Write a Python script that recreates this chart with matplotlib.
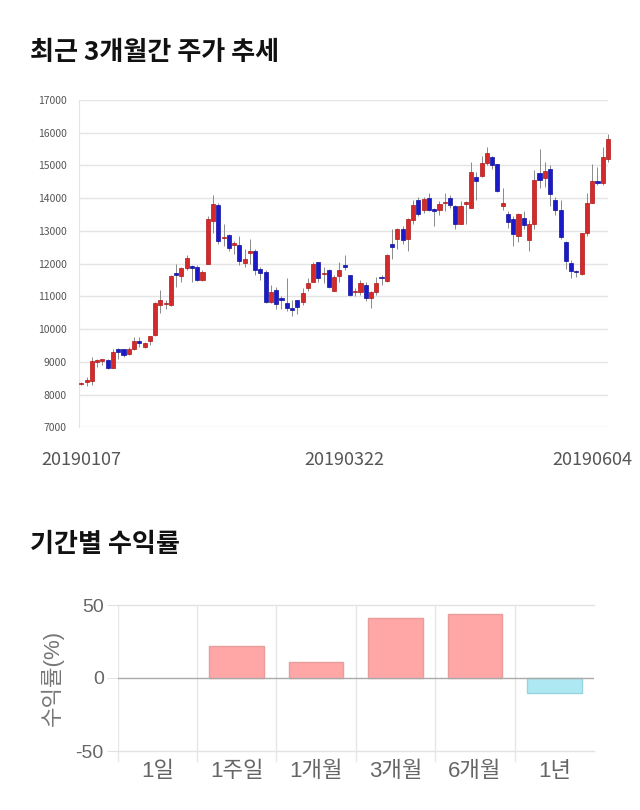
import matplotlib
matplotlib.use("Agg")
import matplotlib.pyplot as plt
import matplotlib.transforms as mtransforms
import numpy as np

plt.rcParams['font.family'] = ['Noto Sans CJK KR', 'DejaVu Sans']

# ---------------- data ----------------
opens = [8320, 8380, 8420, 9000, 9040, 9060, 8810, 9390, 9390, 9250,
         9390, 9650, 9450, 9650, 9830, 10740, 10760, 10740, 11710, 11610,
         11860, 11900, 11900, 11500, 12000, 13290, 13800, 12780, 12880, 12580,
         12580, 12030, 12340, 12400, 11850, 11750, 10830, 11200, 10950, 10790,
         10640, 10890, 10840, 11250, 11430, 12040, 11680, 11800, 11170, 11630,
         11960, 11650, 11130, 11140, 11350, 10940, 11140, 11600, 11480, 12610,
         12760, 13070, 12760, 13320, 13930, 13630, 14010, 13640, 13630, 13840,
         14010, 13760, 13220, 13830, 13710, 14660, 14680, 15080, 15270, 15030,
         13760, 13510, 13370, 12860, 13400, 12710, 13220, 14780, 14620, 14880,
         13930, 13630, 12660, 12010, 11760, 11680, 12930, 13860, 14520, 14450,
         15190]
highs = [8380, 8550, 9150, 9100, 9100, 9100, 9400, 9420, 9400, 9450,
         9750, 9750, 9600, 9800, 10830, 11200, 10900, 11650, 12000, 11900,
         12250, 11950, 11950, 11800, 13450, 14100, 13850, 13200, 12900, 12700,
         12850, 12450, 12750, 12450, 11900, 11800, 11350, 11300, 11000, 11550,
         10900, 10900, 11250, 11550, 12050, 12050, 11900, 11850, 11650, 12050,
         12250, 11650, 11250, 11500, 11450, 11150, 11600, 11650, 12300, 13050,
         13100, 13150, 13400, 13950, 14050, 14050, 14150, 13700, 13900, 14150,
         14100, 13800, 13900, 13900, 15100, 14800, 15300, 15550, 15300, 15050,
         14300, 13620, 13450, 13550, 13620, 13330, 14850, 15500, 15100, 15000,
         14050, 13950, 12700, 12100, 11800, 12950, 14150, 15050, 14950, 15550,
         15950]
lows = [8280, 8250, 8300, 8850, 8900, 8780, 8800, 9100, 9150, 9200,
        9350, 9450, 9430, 9500, 9800, 10500, 10600, 10700, 11300, 11450,
        11800, 11450, 11480, 11480, 12000, 12950, 12600, 12550, 12400, 12300,
        11950, 11900, 12000, 11650, 11500, 10800, 10800, 10620, 10600, 10550,
        10400, 10450, 10750, 11150, 11430, 11450, 11400, 11250, 11150, 11450,
        11800, 11000, 11000, 11050, 10850, 10650, 11050, 11350, 11450, 12150,
        12450, 12600, 12400, 13200, 13450, 13550, 13600, 13150, 13500, 13600,
        13700, 13050, 13200, 13200, 13700, 13950, 14650, 15000, 14900, 14200,
        13650, 13100, 12550, 12650, 13050, 12400, 13050, 14300, 14350, 13750,
        13500, 12750, 11850, 11550, 11600, 11650, 12850, 13850, 14400, 14400,
        15100]
closes = [8350, 8430, 9030, 9060, 9050, 8810, 9300, 9300, 9220, 9390,
          9650, 9570, 9590, 9800, 10800, 10900, 10790, 11610, 11640, 11860,
          12170, 11870, 11500, 11750, 13370, 13830, 12690, 12800, 12480, 12640,
          12080, 12150, 12360, 11800, 11700, 10830, 11130, 10780, 10880, 10640,
          10590, 10690, 11100, 11400, 11990, 11550, 11700, 11300, 11600, 11800,
          11890, 11040, 11150, 11400, 10940, 11140, 11400, 11550, 12260, 12520,
          13070, 12720, 13370, 13780, 13530, 13960, 13630, 13620, 13810, 13880,
          13780, 13220, 13760, 13860, 14810, 14520, 15080, 15390, 15010, 14220,
          13860, 13270, 12920, 13510, 13170, 13220, 14570, 14570, 14830, 14120,
          13630, 12820, 12080, 11780, 11740, 12930, 13860, 14520, 14470, 15270,
          15820]
price_ticks = [7000, 8000, 9000, 10000, 11000, 12000, 13000, 14000, 15000, 16000, 17000]
date_labels = ["20190107", "20190322", "20190604"]
date_index = [0, 50, 100]

periods = ["1일", "1주일", "1개월", "3개월", "6개월", "1년"]
returns = [0.0, 22.0, 10.9, 41.1, 43.9, -10.2]

# ---------------- figure ----------------
W, H = 640, 810
fig = plt.figure(figsize=(W / 100, H / 100), dpi=100)
fig.patch.set_facecolor("white")

def ax_rect(x0, y0, x1, y1):
    return [x0 / W, 1 - y1 / H, (x1 - x0) / W, (y1 - y0) / H]

fig.text(30 / W, 1 - 52 / H, "최근 3개월간 주가 추세", fontsize=18.8, fontweight="bold",
         color="#111111", ha="left", va="center")
fig.text(30 / W, 1 - 545 / H, "기간별 수익률", fontsize=18.8, fontweight="bold",
         color="#111111", ha="left", va="center")

# ---------------- candlestick ----------------
ax = fig.add_axes(ax_rect(79, 100, 608, 427.3))
n = len(opens)
x = np.arange(n)
o = np.array(opens, float)
c = np.array(closes, float)
hi = np.array(highs, float)
lo = np.array(lows, float)
up = c >= o
colors = np.where(up, "#d42a2a", "#1a1ac8")
edges = np.where(up, "#b01818", "#10109a")
ax.vlines(x, lo, hi, color="#8a8a8a", lw=0.7, zorder=2, clip_on=False)
body = np.maximum(np.abs(c - o), 45)
bottom = np.minimum(o, c)
ax.bar(x, body, bottom=bottom, width=0.78, color=colors, edgecolor=edges,
       linewidth=0.5, zorder=3, clip_on=False)
ax.set_xlim(-0.45, 99.9)
ax.set_ylim(7000, 17000)
ax.set_yticks(price_ticks)
ax.set_yticklabels([str(t) for t in price_ticks])
ax.grid(axis="y", color="#e4e4e4", lw=1)
ax.set_axisbelow(True)
for s in ["top", "right", "bottom"]:
    ax.spines[s].set_visible(False)
ax.spines["left"].set_color("#e4e4e4")
ax.tick_params(axis="y", length=0, labelsize=7.5, labelcolor="#555555", pad=9)
ax.set_xticks(date_index)
ax.set_xticklabels(date_labels)
ax.tick_params(axis="x", length=0, labelsize=13, labelcolor="#555555", pad=17)
lbls = ax.get_xticklabels()
lbls[-1].set_horizontalalignment("right")
lbls[-1].set_transform(lbls[-1].get_transform() +
                       mtransforms.ScaledTranslation(24 / 100, 0, fig.dpi_scale_trans))

# ---------------- returns bars ----------------
bx = fig.add_axes(ax_rect(117.6, 605, 594, 751))
pos = np.arange(len(periods))
vals = np.array(returns)
bcol = np.where(vals >= 0, "#ffa6a6", "#aee8f3")
becol = np.where(vals >= 0, "#e89c9c", "#98d4e0")
lw = np.where(vals == 0, 0.0, 1.0)
bx.bar(pos, vals, width=0.69, color=bcol, edgecolor=becol, linewidth=lw, zorder=3)
bx.set_xlim(-0.5, len(periods) - 0.5)
bx.set_ylim(-50, 50)
bx.set_yticks([-50, 0, 50])
bx.set_yticklabels(["-50", "0", "50"])
for yv in [-50, 50]:
    bx.axhline(yv, color="#e2e2e2", lw=1, zorder=1, clip_on=False)
bx.axhline(0, color="#aaaaaa", lw=1, zorder=4)
for xb in np.arange(len(periods)) - 0.5:
    bx.plot([xb, xb], [-50, 50], color="#e6e6e6", lw=1, zorder=1)
    bx.plot([xb, xb], [-50, -57], color="#e6e6e6", lw=1, zorder=1, clip_on=False)
for s in bx.spines.values():
    s.set_visible(False)
bx.set_xticks(pos)
bx.set_xticklabels(periods)
bx.tick_params(axis="x", length=0, labelsize=16, labelcolor="#666666", pad=7)
bx.tick_params(axis="y", length=8, color="#e2e2e2", labelsize=14, labelcolor="#666666", pad=2)
for t in bx.get_xticklabels() + bx.get_yticklabels():
    t.set_fontfamily(["Liberation Sans", "Noto Sans CJK KR"])
bx.set_ylabel("수익률(%)", fontsize=16, color="#777777", labelpad=8,
              fontfamily=["Liberation Sans", "Noto Sans CJK KR"])

fig.savefig("out.png", dpi=100, facecolor="white")
